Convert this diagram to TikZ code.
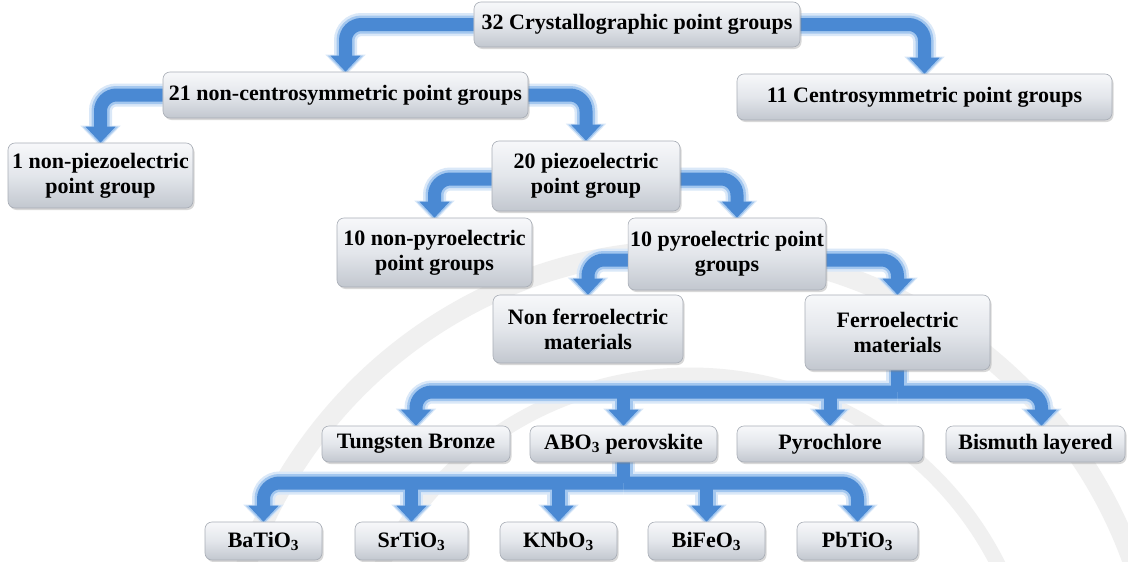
\documentclass[tikz,border=0pt]{standalone}
\usepackage{fontspec}
\setmainfont{Liberation Serif}
\usetikzlibrary{arrows.meta,shadows,backgrounds}

\definecolor{flowblue}{HTML}{4A89D3}
\definecolor{glowin}{HTML}{A3C7EF}
\definecolor{glowout}{HTML}{DAE8F8}
\definecolor{boxtop}{HTML}{F7F8FA}
\definecolor{boxmid}{HTML}{E3E6EB}
\definecolor{boxbot}{HTML}{C2C7CF}
\definecolor{boxline}{HTML}{A8ADB6}
\definecolor{seal}{HTML}{F0F0F0}

% every arrow of the tree, drawn once per layer (#1 line style, #2 tip style)
\newcommand\flowpaths[2]{%
  \draw[#1,#2] (A.west) -| (B.north);
  \draw[#1,#2] (A.east) -| (C.north);
  \draw[#1,#2] (B.west) -| (D.north);
  \draw[#1,#2] (B.east) -| (E.north);
  \draw[#1,#2] ([yshift=-3pt]E.west) -| (F.north);
  \draw[#1,#2] ([yshift=-3pt]E.east) -| ([xshift=10pt]G.north);
  \draw[#1,#2] ([yshift=-6pt]G.west) -| (H.north);
  \draw[#1,#2] ([yshift=-6pt]G.east) -| (I.north);
  % ferroelectric families
  \draw[#1] (I.south) -- (fbar);
  \draw[#1,#2] (fbar) -| (J.north);
  \draw[#1,#2] (fbar) -| ([xshift=6pt]M.north);
  \draw[#1,#2] (K.north |- fbar) -- (K.north);
  \draw[#1,#2] (L.north |- fbar) -- (L.north);
  % perovskite examples
  \draw[#1] (K.south) -- (kbar);
  \draw[#1,#2] (kbar) -| (N.north);
  \draw[#1,#2] (kbar) -| (R.north);
  \draw[#1,#2] (O.north |- kbar) -- (O.north);
  \draw[#1,#2] (P.north |- kbar) -- (P.north);
  \draw[#1,#2] (Q.north |- kbar) -- (Q.north);
}

\begin{document}
\begin{tikzpicture}[x=1pt,y=-1pt,
  box/.style={draw=boxline, line width=0.6pt, rounded corners=7pt,
    top color=boxtop, bottom color=boxbot, middle color=boxmid,
    drop shadow={shadow xshift=1.5pt, shadow yshift=-2pt, opacity=0.3},
    align=center, inner sep=2pt,
    font=\fontsize{22}{25}\selectfont\bfseries},
  glowA/.style={draw=glowout, line width=23pt, rounded corners=16pt},
  glowB/.style={draw=glowin, line width=18pt, rounded corners=16pt},
  band/.style={draw=flowblue, line width=13pt, rounded corners=16pt},
  tipA/.style={-{Triangle[width=39pt,length=21pt]}, shorten >=-4pt, glowout},
  tipB/.style={-{Triangle[width=34pt,length=18pt]}, shorten >=-2pt, glowin},
  tipC/.style={-{Triangle[width=29pt,length=16pt]}, flowblue},
]
\useasboundingbox (0,0) rectangle (1128,562);

% boxes
\node[box, minimum width=326pt, minimum height=45pt] (A) at (637,24.5) {32 Crystallographic point groups};
\node[box, minimum width=365pt, minimum height=46pt] (B) at (345.5,95) {21 non-centrosymmetric point groups};
\node[box, minimum width=375pt, minimum height=46pt] (C) at (924.5,97) {11 Centrosymmetric point groups};
\node[box, minimum width=185pt, minimum height=65pt] (D) at (100.5,175.5) {1 non-piezoelectric\\point group};
\node[box, minimum width=188pt, minimum height=70pt] (E) at (586,176) {20 piezoelectric\\point group};
\node[box, minimum width=195pt, minimum height=69pt] (F) at (434.5,252.5) {10 non-pyroelectric\\point groups};
\node[box, minimum width=190pt, minimum height=72pt] (G) at (727,254) {10 pyroelectric point\\groups};
\node[box, minimum width=190pt, minimum height=68pt] (H) at (588,329) {Non ferroelectric\\materials};
\node[box, minimum width=185pt, minimum height=75pt] (I) at (897.5,332.5) {Ferroelectric\\materials};

\node[box, minimum width=188pt, minimum height=36pt] (J) at (416,444) {Tungsten Bronze};
\node[box, minimum width=187pt, minimum height=36pt] (K) at (623.5,444) {ABO\textsubscript{3} perovskite};
\node[box, minimum width=186pt, minimum height=36pt] (L) at (830,444) {Pyrochlore};
\node[box, minimum width=179pt, minimum height=36pt] (M) at (1035.5,444) {Bismuth layered};

\node[box, minimum width=117pt, minimum height=38pt] (N) at (263.5,541) {BaTiO\textsubscript{3}};
\node[box, minimum width=113pt, minimum height=38pt] (O) at (411.5,541) {SrTiO\textsubscript{3}};
\node[box, minimum width=117pt, minimum height=38pt] (P) at (558.5,541) {KNbO\textsubscript{3}};
\node[box, minimum width=117pt, minimum height=38pt] (Q) at (706.5,541) {BiFeO\textsubscript{3}};
\node[box, minimum width=121pt, minimum height=38pt] (R) at (857.5,541) {PbTiO\textsubscript{3}};

% branching points of the two bars
\coordinate (fbar) at (I.south |- 0,392);
\coordinate (kbar) at (K.south |- 0,483);

\begin{scope}[on background layer]
  \fill[white] (0,0) rectangle (1128,562);
  % faint seal behind the tree
  \draw[seal, line width=20pt] (690,720) circle[radius=470pt];
  \draw[seal, line width=15pt] (690,720) circle[radius=345pt];
  % glowing block arrows
  \flowpaths{glowA}{tipA}
  \flowpaths{glowB}{tipB}
  \flowpaths{band}{tipC}
\end{scope}
\end{tikzpicture}
\end{document}
